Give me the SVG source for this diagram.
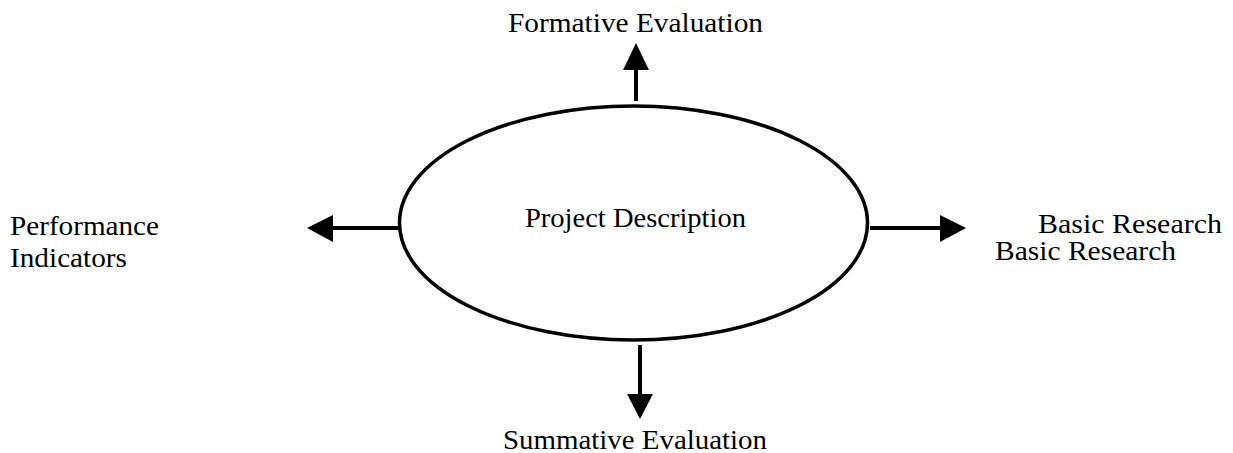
<svg xmlns="http://www.w3.org/2000/svg" width="1233" height="453" viewBox="0 0 1233 453">
<style>
text{font-family:"Liberation Serif","Times New Roman",serif;font-size:28px;fill:#000}
.c{stroke:#000;stroke-width:4;fill:none}
.h{fill:#000;stroke:none}
</style>
<rect width="1233" height="453" fill="#fff"/>
<g id="center">
<ellipse cx="633.5" cy="223" rx="234" ry="117" fill="none" stroke="#000" stroke-width="3.5"/>
<text x="525" y="227" textLength="221" lengthAdjust="spacingAndGlyphs">Project Description</text>
</g>
<g id="formative"><text x="508" y="32" textLength="255" lengthAdjust="spacingAndGlyphs">Formative Evaluation</text></g>
<g id="summative"><text x="503" y="449" textLength="264" lengthAdjust="spacingAndGlyphs">Summative Evaluation</text></g>
<g id="performance"><text x="10" y="235" textLength="149" lengthAdjust="spacingAndGlyphs">Performance</text><text x="10" y="267" textLength="117" lengthAdjust="spacingAndGlyphs">Indicators</text></g>
<g id="basic"><text x="1038" y="233" textLength="184" lengthAdjust="spacingAndGlyphs">Basic Research</text><text x="995" y="260" textLength="181" lengthAdjust="spacingAndGlyphs">Basic Research</text></g>
<g id="connectors">
<line class="c" x1="636" y1="101" x2="636" y2="68"/>
<polygon class="h" points="636,43 623,70 649,70"/>
<line class="c" x1="399" y1="228" x2="331" y2="228"/>
<polygon class="h" points="307,228 333,215 333,242"/>
<line class="c" x1="870" y1="228" x2="942" y2="228"/>
<polygon class="h" points="966,228 940,215 940,242"/>
<line class="c" x1="640" y1="345" x2="640" y2="397"/>
<polygon class="h" points="640,419 627,394 653,394"/>
</g>
</svg>
